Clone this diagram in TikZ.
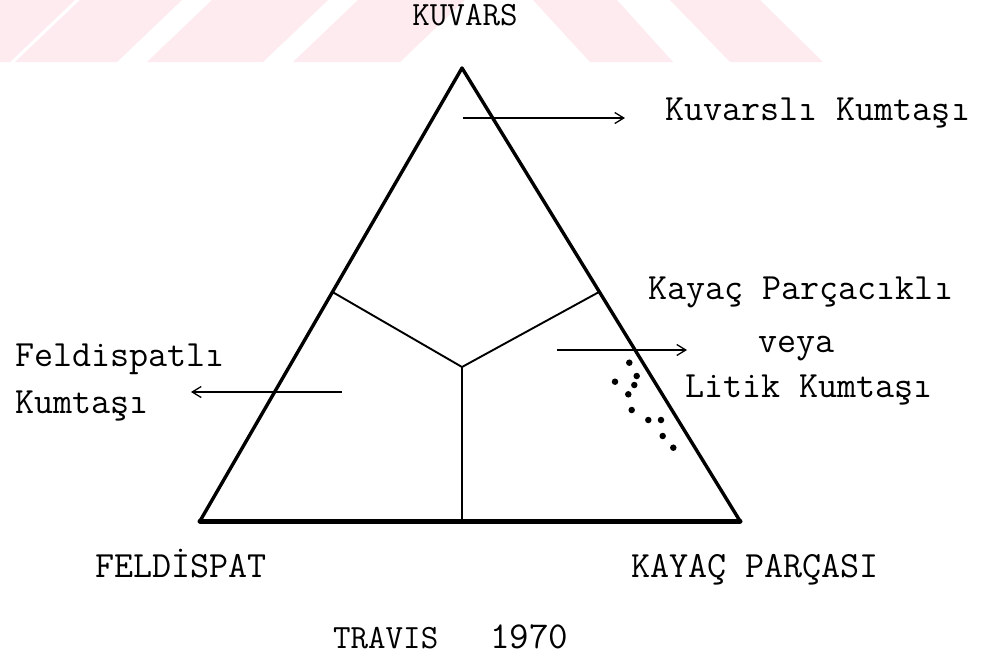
\documentclass[tikz,border=0pt]{standalone}
\usepackage{fontspec}
\usetikzlibrary{arrows.meta}
\definecolor{wmpink}{RGB}{253,235,239}
\newcommand{\twfont}[2]{\ttfamily\addfontfeatures{FakeBold=#2}\fontsize{#1}{#1}\selectfont}
\tikzset{
  lbl/.style={inner sep=0pt, anchor=base west, font=\twfont{37}{2}},
  capl/.style={inner sep=0pt, anchor=base west, font=\twfont{34}{2.2}},
  side/.style={line width=3.4pt, line join=round, line cap=round},
  inner/.style={line width=1.9pt},
  ptr/.style={line width=1.4pt, -{Straight Barb[length=9pt,width=11pt,line width=1.3pt]}},
  dot/.style={fill=black, circle, inner sep=0pt, minimum size=6.5pt},
  wm/.style={fill=wmpink, draw=none}
}
\begin{document}
\begin{tikzpicture}[x=1pt,y=-1pt]
\path[use as bounding box, fill=white] (0,0) rectangle (1005,662);
% watermark stripes
\begin{scope}
\clip (0,0) rectangle (1005,62);
\fill[wm] (-100,62) -- (10,62) -- (75,0) -- (-35,0) -- cycle;
\fill[wm] (15,62) -- (117,62) -- (182,0) -- (80,0) -- cycle;
\fill[wm] (147,62) -- (263,62) -- (328,0) -- (212,0) -- cycle;
\fill[wm] (293,62) -- (400,62) -- (465,0) -- (358,0) -- cycle;
\fill[wm] (590,62) -- (673,62) -- (617,0) -- (533,0) -- cycle;
\fill[wm] (730,62) -- (823,62) -- (760,0) -- (670,0) -- cycle;
\end{scope}
% triangle coordinates
\coordinate (A) at (462,68);
\coordinate (B) at (200,521);
\coordinate (C) at (740,521);
\coordinate (O) at (462,367);
\coordinate (P) at (332.5,292);
\coordinate (Q) at (599,292);
\coordinate (M) at (462,521);
\draw[side] (B) -- (A) -- (C);
\draw[line width=5pt, line cap=round] (B) -- (C);
\draw[inner] (P) -- (O) -- (Q);
\draw[inner] (O) -- (M);
% pointers
\coordinate (k1) at (463,118);
\coordinate (k2) at (625,118);
\draw[ptr] (k1) -- (k2);
\coordinate (r1) at (557,350);
\coordinate (r2) at (687,350);
\draw[ptr] (r1) -- (r2);
\coordinate (l1) at (342,392);
\coordinate (l2) at (191,392);
\draw[ptr] (l1) -- (l2);
% dots
\foreach \x/\y [count=\i] in {629.3/362.7,636.7/376,615/381.7,634.3/385,628.3/394.3,631.7/410,648.3/420,661/420,662.7/436,673.3/447.7}
  \node[dot] (d\i) at (\x,\y) {};
% labels
\node[capl, anchor=base] (kuvars) at (465,25) {KUVARS};
\node[lbl] (kk) at (665,120) {Kuvarslı Kumtaşı};
\node[lbl] (kp) at (648,299) {Kayaç Parçacıklı};
\node[lbl] (veya) at (758,352) {veya};
\node[lbl] (lk) at (685,397) {Litik Kumtaşı};
\node[lbl] (fe) at (15,366) {Feldispatlı};
\node[lbl] (fk) at (15,413) {Kumtaşı};
\node[lbl] (feld) at (95,577) {FELDİSPAT};
\node[lbl] (kay) at (631,577) {KAYAÇ PARÇASI};
\node[capl] (trav) at (333,648) {TRAVIS};
\node[lbl, font=\twfont{38}{3.2}] (yr) at (490,648) {1970};
\end{tikzpicture}
\end{document}
